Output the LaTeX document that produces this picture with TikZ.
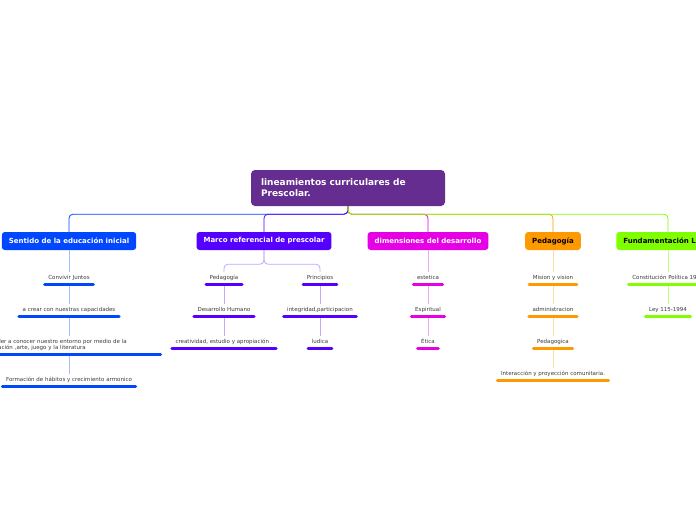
\documentclass[tikz,border=0pt]{standalone}
\usepackage{fontspec}
\setmainfont{DejaVu Sans}

\definecolor{cRoot}{RGB}{102,45,145}
\definecolor{cBlue}{RGB}{0,71,255}
\definecolor{cViolet}{RGB}{85,0,255}
\definecolor{cMag}{RGB}{230,0,230}
\definecolor{cOrange}{RGB}{255,153,0}
\definecolor{cGreen}{RGB}{128,255,0}
\definecolor{cText}{RGB}{60,60,60}

\begin{document}
\begin{tikzpicture}[x=1pt,y=-1pt]
    \tikzstyle{root} = [fill=cRoot, rounded corners=4pt, text=white, font=\bfseries\fontsize{9}{11}\selectfont, text width=174pt, align=left, inner xsep=10pt, minimum height=36pt]
    \tikzstyle{topic} = [rounded corners=3pt, font=\bfseries\fontsize{7}{8}\selectfont, minimum height=18pt, inner xsep=7pt, inner ysep=0pt]
    \tikzstyle{leaf} = [text=cText, font=\fontsize{5.5}{6.5}\selectfont, text height=4.2pt, text depth=1.3pt, inner xsep=3.5pt, inner ysep=3pt, anchor=south]
    \tikzstyle{link} = [line width=0.8pt, rounded corners=4pt]
    \tikzstyle{uline} = [line width=3pt, line cap=round]

    \path[use as bounding box, clip] (0,0) rectangle (696,520);
    \fill[white] (0,0) rectangle (696,520);

    % main topic and its branches
    \node[root] (lin) at (348,188) {lineamientos curriculares de\\Prescolar.};

    \node[topic, fill=cBlue, text=white] (sen) at (69,241) {Sentido de la educación inicial};
    \node[topic, fill=cViolet, text=white] (mar) at (264,241) {Marco referencial de prescolar};
    \node[topic, fill=cMag, text=white] (dim) at (428,241) {dimensiones del desarrollo};
    \node[topic, fill=cOrange] (ped) at (553,241) {Pedagogía};
    \node[topic, fill=cGreen] (fun) at (668,241) {Fundamentación Legal};

    % leaves
    \node[leaf] (s1) at (69,284) {Convivir Juntos};
    \node[leaf] (s2) at (69,316) {a crear con nuestras capacidades};
    \node[leaf, text width=176pt, align=left, text depth=7.8pt] (s3) at (69,354) {Aprender a conocer nuestro entorno por medio de la\\exploración ,arte, juego y la literatura};
    \node[leaf] (s4) at (69,386) {Formación de hábitos y crecimiento armonico};

    \node[leaf] (m1) at (224,284) {Pedagogía};
    \node[leaf] (m2) at (224,316) {Desarrollo Humano};
    \node[leaf] (m3) at (224,348) {creatividad, estudio y apropiación .};
    \node[leaf] (m4) at (320,284) {Principios};
    \node[leaf] (m5) at (320,316) {integridad,participacion};
    \node[leaf] (m6) at (320,348) {ludica};

    \node[leaf] (d1) at (428,284) {estetica};
    \node[leaf] (d2) at (428,316) {Espiritual};
    \node[leaf] (d3) at (428,348) {Ética};

    \node[leaf] (p1) at (553,284) {Mision y vision};
    \node[leaf] (p2) at (553,316) {administracion};
    \node[leaf] (p3) at (553,348) {Pedagogica};
    \node[leaf] (p4) at (553,380) {Interacción y proyección comunitaria.};

    \node[leaf] (f1) at (668,284) {Constitución Política 1991};
    \node[leaf] (f2) at (668,316) {Ley 115-1994};

    % connectors
    \foreach \t/\c in {sen/cBlue, mar/cViolet, dim/cMag, ped/cOrange, fun/cGreen}
        \draw[link, \c] (lin.south) -- ++(0,8) -| (\t.north);

    \foreach \a/\b in {sen/s1, s1/s2, s2/s3, s3/s4}
        \draw[link, cBlue!35] (\a.south) -- (\b.north);
    \draw[link, cViolet!35] (mar.south) -- ++(0,14) -| (m1.north);
    \draw[link, cViolet!35] (mar.south) -- ++(0,14) -| (m4.north);
    \foreach \a/\b in {m1/m2, m2/m3, m4/m5, m5/m6}
        \draw[link, cViolet!35] (\a.south) -- (\b.north);
    \foreach \a/\b in {dim/d1, d1/d2, d2/d3}
        \draw[link, cMag!35] (\a.south) -- (\b.north);
    \foreach \a/\b in {ped/p1, p1/p2, p2/p3, p3/p4}
        \draw[link, cOrange!35] (\a.south) -- (\b.north);
    \foreach \a/\b in {fun/f1, f1/f2}
        \draw[link, cGreen!50] (\a.south) -- (\b.north);

    % underlines
    \foreach \n in {s1,s2,s3,s4}
        \draw[uline, cBlue] (\n.south west) -- (\n.south east);
    \foreach \n in {m1,m2,m3,m4,m5,m6}
        \draw[uline, cViolet] (\n.south west) -- (\n.south east);
    \foreach \n in {d1,d2,d3}
        \draw[uline, cMag] (\n.south west) -- (\n.south east);
    \foreach \n in {p1,p2,p3,p4}
        \draw[uline, cOrange] (\n.south west) -- (\n.south east);
    \foreach \n in {f1,f2}
        \draw[uline, cGreen] (\n.south west) -- (\n.south east);
\end{tikzpicture}
\end{document}
